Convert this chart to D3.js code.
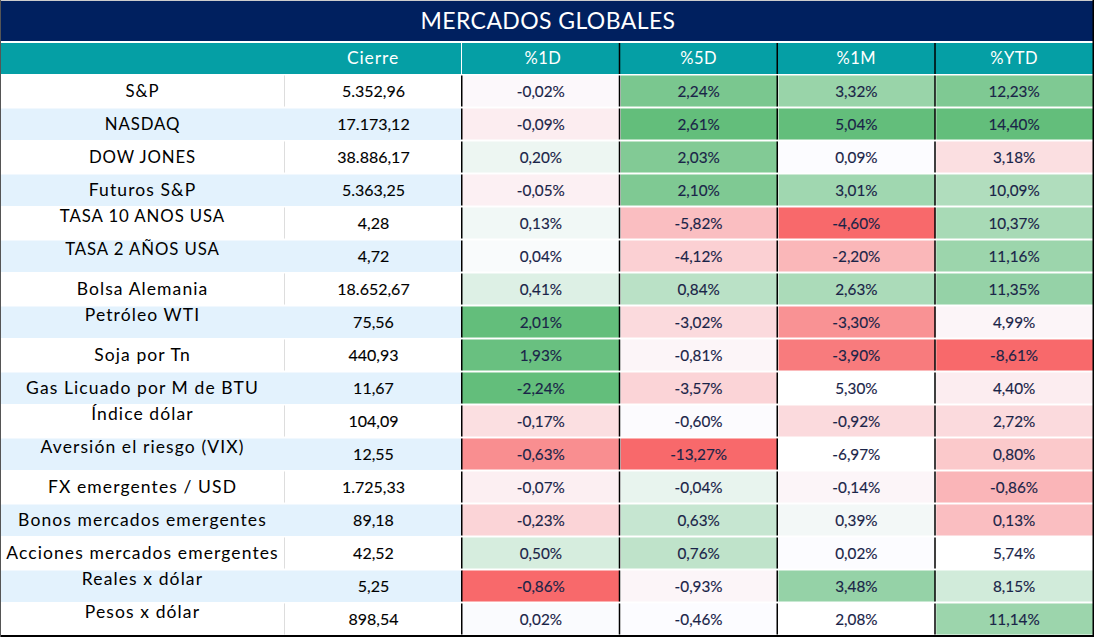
<!DOCTYPE html>
<html><head><meta charset="utf-8">
<script src="https://cdn.jsdelivr.net/npm/d3@7"></script>
<style>html,body{margin:0;background:#fff}svg{display:block}text{font-family:Lato,"Noto Sans",sans-serif}</style>
</head><body><div id="c"></div>
<script>
const title = "MERCADOS GLOBALES";
const columns = ["Cierre","%1D","%5D","%1M","%YTD"];
const names = ["S&P","NASDAQ","DOW JONES","Futuros S&P","TASA 10 ANOS USA","TASA 2 AÑOS USA","Bolsa Alemania","Petróleo WTI","Soja por Tn","Gas Licuado por M de BTU","Índice dólar","Aversión el riesgo (VIX)","FX emergentes / USD","Bonos mercados emergentes","Acciones mercados emergentes","Reales x dólar","Pesos x dólar"];
const raised = ["TASA 10 ANOS USA","TASA 2 AÑOS USA","Petróleo WTI","Índice dólar","Aversión el riesgo (VIX)","Reales x dólar","Pesos x dólar"];
const cierre = ["5.352,96","17.173,12","38.886,17","5.363,25","4,28","4,72","18.652,67","75,56","440,93","11,67","104,09","12,55","1.725,33","89,18","42,52","5,25","898,54"];
const d1 = ["-0,02%","-0,09%","0,20%","-0,05%","0,13%","0,04%","0,41%","2,01%","1,93%","-2,24%","-0,17%","-0,63%","-0,07%","-0,23%","0,50%","-0,86%","0,02%"];
const d5 = ["2,24%","2,61%","2,03%","2,10%","-5,82%","-4,12%","0,84%","-3,02%","-0,81%","-3,57%","-0,60%","-13,27%","-0,04%","0,63%","0,76%","-0,93%","-0,46%"];
const m1 = ["3,32%","5,04%","0,09%","3,01%","-4,60%","-2,20%","2,63%","-3,30%","-3,90%","5,30%","-0,92%","-6,97%","-0,14%","0,39%","0,02%","3,48%","2,08%"];
const ytd = ["12,23%","14,40%","3,18%","10,09%","10,37%","11,16%","11,35%","4,99%","-8,61%","4,40%","2,72%","0,80%","-0,86%","0,13%","5,74%","8,15%","11,14%"];
// heat intensity read off each cell, -1 red ... 0 neutral ... +1 green; null = no shading
const heat1 = [-.03,-.1,.1,-.08,.07,.02,.2,1,.96,1,-.2,-.75,-.09,-.27,.25,-1,.01];
const heat5 = [.85,1,.8,.82,-.42,-.3,.43,-.23,-.05,-.27,-.01,-1,.13,.35,.4,-.05,0];
const heatM = [.65,1,0,.6,-1,-.47,.53,-.72,-.88,null,-.23,null,-.05,.06,0,.67,null];
const heatY = [.82,1,-.2,.5,.55,.63,.67,-.05,-1,-.1,-.23,-.35,-.48,-.42,null,.28,.63];
const pctCols = [d1,d5,m1,ytd], heatCols = [heat1,heat5,heatM,heatY];

const W = 1094, H = 637;
const NAVY = "#00205f", TEAL = "#059fa5", BLUE = "#e3f2fd", INK = "#1a2448";
const heatRamp = d3.scaleLinear().domain([-1,0,1]).range(["#f8696b","#fcfcff","#63be7b"]);
const heatColor = v => v === null ? "#fff" : heatRamp(v);
const y = d3.scaleBand().domain(names).range([74.5,635.5]).paddingInner(.06).paddingOuter(.03);
const xLabel = [1,284], xClose = [285,461];
const xPct = d3.scaleBand().domain(d3.range(4)).range([462,1093]);
const svg = d3.select("#c").append("svg").attr("width",W).attr("height",H);
const mid = d => y(d)+y.bandwidth()/2;
const isCaps = d => d === d.toUpperCase();

svg.append("rect").attr("width",W).attr("height",H).attr("fill","#fff");
svg.append("rect").attr("x",1).attr("y",1).attr("width",W-2).attr("height",40).attr("fill",NAVY);
svg.append("text").attr("x",W/2+1).attr("y",20.5).attr("dy",".36em").attr("text-anchor","middle").attr("fill","#fff").attr("font-size",23).attr("letter-spacing",.4).text(title);
svg.append("rect").attr("x",1).attr("y",43).attr("width",460).attr("height",31).attr("fill",TEAL);
svg.append("rect").attr("x",462).attr("y",43).attr("width",631).attr("height",31).attr("fill",TEAL);
const head = (t,x,size,ls)=>svg.append("text").attr("x",x).attr("y",58).attr("dy",".36em").attr("text-anchor","middle").attr("fill","#fff").attr("font-size",size).attr("letter-spacing",ls).text(t);
head(columns[0],(xClose[0]+xClose[1])/2,17.5,.9);
columns.slice(1).forEach((c,i)=>head(c,xPct(i)+xPct.bandwidth()/2+(i?0:2),16.5,.5));
xPct.domain().slice(1).forEach(i=>svg.append("rect").attr("x",xPct(i)-1).attr("y",43).attr("width",1.5).attr("height",31).attr("fill","#000"));

const row = svg.selectAll("g.row").data(names).join("g").attr("class","row");
row.filter((d,i)=>i%2==1).append("rect").attr("x",1).attr("y",d=>y(d)).attr("width",xClose[1]-1).attr("height",y.bandwidth()+.5).attr("fill",BLUE);
row.filter((d,i)=>i%2==0).append("rect").attr("x",xLabel[1]).attr("y",d=>y(d)).attr("width",1).attr("height",y.bandwidth()).attr("fill","#ddd");
row.append("text").attr("x",(xLabel[0]+xLabel[1])/2).attr("y",d=>mid(d)-.3-(raised.includes(d)?7:0)).attr("dy",".36em").attr("text-anchor","middle").attr("fill","#000").attr("font-size",d=>isCaps(d)?16.8:17.5).attr("letter-spacing",d=>isCaps(d)?.9:1.1).text(d=>d);
row.append("text").attr("x",(xClose[0]+xClose[1])/2+.5).attr("y",mid).attr("dy",".36em").attr("text-anchor","middle").attr("fill","#000").attr("stroke","#000").attr("stroke-width",.12).attr("font-size",16).text((d,i)=>cierre[i]);
pctCols.forEach((vals,c)=>{
  const g = svg.append("g");
  g.selectAll("rect.cell").data(names).join("rect").attr("class","cell").attr("x",xPct(c)+(c?1:0)).attr("y",d=>y(d)).attr("width",xPct.bandwidth()-(c?1:0)).attr("height",y.bandwidth()).attr("fill",(d,i)=>heatColor(heatCols[c][i]));
  g.selectAll("text").data(names).join("text").attr("x",xPct(c)+xPct.bandwidth()/2).attr("y",mid).attr("dy",".36em").attr("text-anchor","middle").attr("fill",INK).attr("stroke",INK).attr("stroke-width",.15).attr("font-size",15.3).text((d,i)=>vals[i]);
  g.selectAll("rect.sep").data(names).join("rect").attr("class","sep").attr("x",xPct(c)-1).attr("y",d=>y(d)).attr("width",1.5).attr("height",y.bandwidth()).attr("fill","#000");
});
svg.append("rect").attr("x",0).attr("y",635).attr("width",W).attr("height",2).attr("fill","#000");
svg.append("rect").attr("x",0).attr("y",0).attr("width",W).attr("height",1).attr("fill","#ccc");
svg.append("rect").attr("x",W-1.5).attr("y",0).attr("width",1.5).attr("height",H).attr("fill","#000");
svg.append("rect").attr("x",0).attr("y",0).attr("width",1).attr("height",H).attr("fill","#555");
</script></body></html>
